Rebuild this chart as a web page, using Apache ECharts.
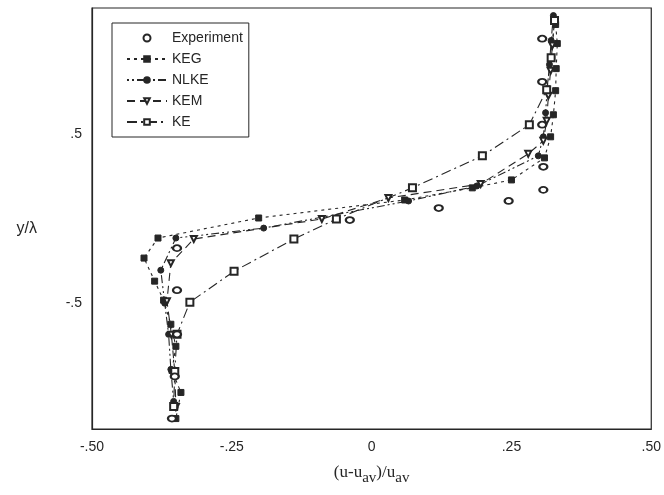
<!DOCTYPE html>
<html>
<head>
<meta charset="utf-8">
<script src="https://cdn.jsdelivr.net/npm/echarts@6/dist/echarts.min.js"></script>
<style>
  html, body { margin: 0; padding: 0; background: #fff; }
  #chart { width: 664px; height: 495px; }
</style>
</head>
<body>
<div id="chart"></div>
<script>
"use strict";

// values: x = (u-uav)/uav, y = y/lambda
const xTicks = [-0.5, -0.25, 0, 0.25, 0.5];
const xTickLabels = ["-.50", "-.25", "0", ".25", ".50"];
const yTicks = [0.5, -0.5];
const yTickLabels = [".5", "-.5"];

const expX = [0.305, 0.305, 0.305, 0.307, 0.307, 0.245, 0.120, -0.039, -0.348, -0.348, -0.348, -0.352, -0.357];
const expY = [1.068, 0.812, 0.557, 0.307, 0.170, 0.104, 0.062, -0.009, -0.176, -0.426, -0.688, -0.938, -1.188];

const kegX = [0.329, 0.332, 0.330, 0.329, 0.325, 0.320, 0.309, 0.250, 0.180, 0.059, -0.202, -0.382, -0.407, -0.388, -0.372, -0.359, -0.350, -0.357, -0.341, -0.350];
const kegY = [1.152, 1.039, 0.890, 0.759, 0.616, 0.485, 0.360, 0.229, 0.182, 0.110, 0.003, -0.116, -0.235, -0.372, -0.485, -0.628, -0.759, -0.902, -1.033, -1.188];

const nlkeX = [0.325, 0.321, 0.318, 0.314, 0.311, 0.307, 0.298, 0.188, 0.066, -0.193, -0.350, -0.377, -0.370, -0.363, -0.359, -0.354];
const nlkeY = [1.205, 1.057, 0.914, 0.771, 0.628, 0.485, 0.372, 0.193, 0.104, -0.057, -0.116, -0.307, -0.503, -0.688, -0.896, -1.086];

const kemX = [0.327, 0.323, 0.320, 0.316, 0.313, 0.307, 0.280, 0.195, 0.030, -0.089, -0.318, -0.359, -0.366, -0.358, -0.352, -0.350];
const kemY = [1.176, 1.027, 0.878, 0.729, 0.580, 0.461, 0.384, 0.205, 0.122, -0.003, -0.122, -0.265, -0.491, -0.690, -0.910, -1.120];

const keX = [0.327, 0.321, 0.313, 0.282, 0.198, 0.073, -0.063, -0.139, -0.246, -0.325, -0.348, -0.352, -0.354];
const keY = [1.176, 0.955, 0.765, 0.557, 0.372, 0.182, -0.003, -0.122, -0.313, -0.497, -0.688, -0.908, -1.116];

const zip = (xs, ys) => xs.map((x, i) => [x, ys[i]]);

const INK = "#262626";
const SANS = "'Liberation Sans', Arial, sans-serif";
const SERIF = "'Liberation Serif', 'Times New Roman', serif";

function model(name, xs, ys, symbol, size, dash, extra = {}) {
  return {
    name,
    type: "line",
    data: zip(xs, ys),
    symbol,
    symbolSize: size,
    showSymbol: true,
    lineStyle: { color: INK, width: 1.1, type: dash },
    itemStyle: { color: INK, borderColor: INK, borderWidth: 1 },
    emphasis: { disabled: true },
    ...extra,
  };
}

const chart = echarts.init(document.getElementById("chart"), null, { renderer: "canvas" });

chart.setOption({
  animation: false,
  backgroundColor: "#fff",
  textStyle: { fontFamily: SANS, color: INK },
  grid: {
    left: 92, right: 12, top: 8, bottom: 66,
    show: true, borderColor: INK, borderWidth: 1.2,
  },
  legend: {
    orient: "vertical",
    left: 112, top: 23,
    padding: [8, 6, 8, 14],
    borderColor: INK, borderWidth: 1,
    itemWidth: 40, itemHeight: 7, itemGap: 7,
    textStyle: { fontFamily: SANS, fontSize: 14, color: INK },
    data: ["Experiment", "KEG", "NLKE", "KEM", "KE"],
  },
  xAxis: {
    type: "value",
    min: -0.5, max: 0.5, interval: 0.25,
    axisLine: { show: true, onZero: false, lineStyle: { color: INK, width: 1.2 } },
    axisTick: { show: false },
    splitLine: { show: false },
    axisLabel: {
      margin: 11, fontSize: 14, color: INK, fontFamily: SANS,
      formatter: (v) => {
        const i = xTicks.findIndex((t) => Math.abs(t - v) < 1e-6);
        return i < 0 ? "" : xTickLabels[i];
      },
    },
    name: "{n|(u-u}{s|av}{n|)/u}{s|av}",
    nameLocation: "middle",
    nameGap: 35,
    nameTextStyle: {
      rich: {
        n: { fontFamily: SERIF, fontSize: 17, color: INK, lineHeight: 22, verticalAlign: "top" },
        s: { fontFamily: SERIF, fontSize: 15, color: INK, lineHeight: 22, verticalAlign: "bottom", padding: [7, 0, 0, 0] },
      },
    },
  },
  yAxis: {
    type: "value",
    min: -1.25, max: 1.25, interval: 0.25,
    axisLine: { show: true, onZero: false, lineStyle: { color: INK, width: 1.2 } },
    axisTick: { show: false },
    splitLine: { show: false },
    axisLabel: {
      margin: 10, fontSize: 14, color: INK, fontFamily: SANS,
      formatter: (v) => {
        const i = yTicks.findIndex((t) => Math.abs(t - v) < 1e-6);
        return i < 0 ? "" : yTickLabels[i];
      },
    },
    name: "y/λ",
    nameLocation: "middle",
    nameRotate: 0,
    nameGap: 55,
    nameTextStyle: { fontFamily: SANS, fontSize: 16, color: INK, verticalAlign: "top", padding: [2, 0, 0, 0] },
  },
  series: [
    {
      name: "Experiment",
      type: "scatter",
      data: zip(expX, expY),
      symbol: "emptyCircle",
      symbolSize: [8, 6],
      itemStyle: { color: INK, borderColor: INK, borderWidth: 1.1, opacity: 1 },
      emphasis: { disabled: true },
      z: 5,
    },
    model("KEG", kegX, kegY, "rect", 6, [3, 4]),
    model("NLKE", nlkeX, nlkeY, "circle", 6, [2, 3, 2, 3, 8, 3]),
    model("KEM", kemX, kemY, "emptyTriangle", 6, [8, 5], { symbolRotate: 180 }),
    model("KE", keX, keY, "emptyRect", 7, [10, 4, 2, 4]),
  ],
});
</script>
</body>
</html>
